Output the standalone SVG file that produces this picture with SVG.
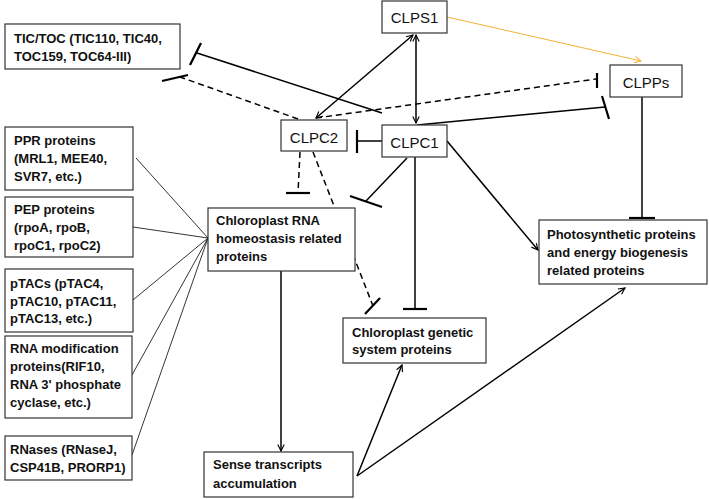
<svg xmlns="http://www.w3.org/2000/svg" width="709" height="499" viewBox="0 0 709 499">
<defs>
<marker id="arr" viewBox="0 0 10 10" refX="9" refY="5" markerWidth="8" markerHeight="8" markerUnits="userSpaceOnUse" orient="auto-start-reverse">
<path d="M1,1 L9,5 L1,9" fill="none" stroke="#000" stroke-width="1.4"/>
</marker>
<marker id="arrY" viewBox="0 0 10 10" refX="9" refY="5" markerWidth="8" markerHeight="8" markerUnits="userSpaceOnUse" orient="auto">
<path d="M1,1 L9,5 L1,9" fill="none" stroke="#f2b134" stroke-width="1.2"/>
</marker>
</defs>
<style>
rect{fill:#fff;stroke:#333;stroke-width:1.2}
.b{font-family:"Liberation Sans",Arial,sans-serif;font-weight:bold;font-size:13px;fill:#111}
.n{font-family:"Liberation Sans",Arial,sans-serif;font-size:15px;fill:#111}
.c line,.c path{stroke:#000;stroke-width:1.5;fill:none}
.c .d{stroke-dasharray:6,4}
.c .t{stroke-width:0.8}
.c .bar{stroke-width:2.2}
.c .y{stroke:#f2b134;stroke-width:1}
</style>
<rect x="0" y="0" width="709" height="499" style="fill:#fff;stroke:none"/>
<g id="connectors" class="c">
<line x1="416" y1="35" x2="416" y2="123" marker-start="url(#arr)" marker-end="url(#arr)"/>
<line x1="413" y1="35" x2="316" y2="118" marker-start="url(#arr)" marker-end="url(#arr)"/>
<line class="y" x1="447" y1="17" x2="641" y2="61" marker-end="url(#arrY)"/>
<line x1="382" y1="113" x2="197" y2="53"/>
<line class="bar" x1="190" y1="65" x2="201" y2="43"/>
<line class="d" x1="298" y1="119" x2="180" y2="77"/>
<line class="bar" x1="162" y1="81" x2="188" y2="75"/>
<line class="d" x1="316" y1="118" x2="596" y2="79"/>
<line class="bar" x1="597" y1="73" x2="597" y2="88"/>
<line x1="417" y1="125" x2="605" y2="107"/>
<line class="bar" x1="602" y1="96" x2="609" y2="119"/>
<line x1="382" y1="141" x2="357" y2="141"/>
<line class="bar" x1="357" y1="130" x2="357" y2="153"/>
<line class="d" x1="300" y1="152" x2="298" y2="193"/>
<line class="bar" x1="286" y1="193" x2="310" y2="193"/>
<line class="d" x1="313" y1="152" x2="373" y2="306"/>
<line class="bar" x1="365" y1="314" x2="380" y2="298"/>
<line x1="407" y1="158" x2="366" y2="201"/>
<line class="bar" x1="350" y1="196" x2="382" y2="207"/>
<line x1="415" y1="157" x2="415" y2="309"/>
<line class="bar" x1="403" y1="309" x2="427" y2="309"/>
<line x1="447" y1="141" x2="538" y2="250" marker-end="url(#arr)"/>
<line x1="642" y1="97" x2="642" y2="218"/>
<line class="bar" x1="629" y1="218" x2="655" y2="218"/>
<line class="t" x1="136" y1="158" x2="208" y2="238"/>
<line class="t" x1="133" y1="227" x2="208" y2="238"/>
<line class="t" x1="133" y1="300" x2="208" y2="238"/>
<line class="t" x1="132" y1="375" x2="208" y2="238"/>
<line class="t" x1="132" y1="455" x2="208" y2="238"/>
<line x1="281" y1="271" x2="281" y2="451" marker-end="url(#arr)"/>
<line x1="357" y1="476" x2="402" y2="365" marker-end="url(#arr)"/>
<line x1="357" y1="476" x2="625" y2="288" marker-end="url(#arr)"/>
</g>
<g id="tictoc"><rect x="5" y="24" width="175" height="45"/><text class="b" x="14" y="43">TIC/TOC (TIC110, TIC40,</text><text class="b" x="14" y="61">TOC159, TOC64-III)</text></g>
<g id="clps1"><rect x="382" y="1" width="65" height="32"/><text class="n" x="414.5" y="23" text-anchor="middle">CLPS1</text></g>
<g id="clpps"><rect x="610" y="65" width="72" height="32"/><text class="n" x="646" y="88" text-anchor="middle">CLPPs</text></g>
<g id="clpc2"><rect x="281" y="120" width="66" height="31"/><text class="n" x="314" y="143" text-anchor="middle">CLPC2</text></g>
<g id="clpc1"><rect x="382" y="125" width="65" height="32"/><text class="n" x="414.5" y="148" text-anchor="middle">CLPC1</text></g>
<g id="ppr"><rect x="5" y="127" width="128" height="63"/><text class="b" x="14" y="145">PPR proteins</text><text class="b" x="14" y="163">(MRL1, MEE40,</text><text class="b" x="14" y="181">SVR7, etc.)</text></g>
<g id="pep"><rect x="5" y="197" width="128" height="60"/><text class="b" x="14" y="214">PEP proteins</text><text class="b" x="14" y="232">(rpoA, rpoB,</text><text class="b" x="14" y="250">rpoC1, rpoC2)</text></g>
<g id="ptacs"><rect x="5" y="269" width="128" height="63"/><text class="b" x="10" y="288">pTACs (pTAC4,</text><text class="b" x="10" y="305.5">pTAC10, pTAC11,</text><text class="b" x="10" y="323">pTAC13, etc.)</text></g>
<g id="rnamod"><rect x="5" y="336" width="127" height="82"/><text class="b" x="10" y="353">RNA modification</text><text class="b" x="10" y="371">proteins(RIF10,</text><text class="b" x="10" y="389">RNA 3' phosphate</text><text class="b" x="10" y="407">cyclase, etc.)</text></g>
<g id="rnases"><rect x="5" y="436" width="127" height="44"/><text class="b" x="10" y="454">RNases (RNaseJ,</text><text class="b" x="10" y="472">CSP41B, PRORP1)</text></g>
<g id="rnahomeo"><rect x="208" y="208" width="147" height="63"/><text class="b" x="216" y="225">Chloroplast RNA</text><text class="b" x="216" y="243">homeostasis related</text><text class="b" x="216" y="261">proteins</text></g>
<g id="sense"><rect x="204" y="452" width="149" height="45"/><text class="b" x="213" y="469">Sense transcripts</text><text class="b" x="213" y="488">accumulation</text></g>
<g id="genetic"><rect x="343" y="318" width="143" height="45"/><text class="b" x="352" y="337">Chloroplast genetic</text><text class="b" x="352" y="354">system proteins</text></g>
<g id="photo"><rect x="539" y="220" width="168" height="64"/><text class="b" x="547" y="239">Photosynthetic proteins</text><text class="b" x="547" y="257">and energy biogenesis</text><text class="b" x="547" y="275">related proteins</text></g>
</svg>
